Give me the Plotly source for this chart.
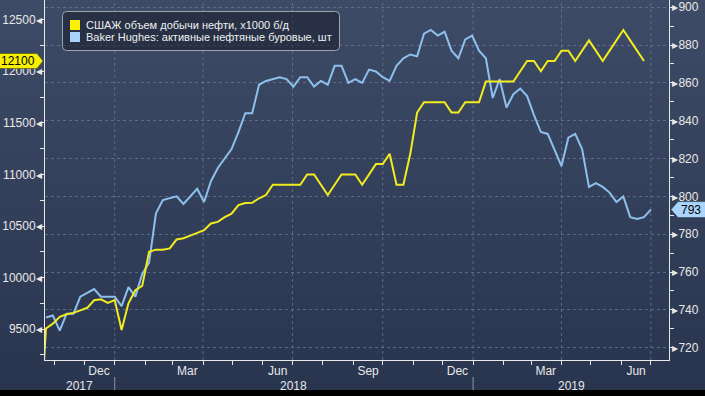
import base64
import struct
import zlib

import pandas as pd
import plotly.graph_objects as go

# ---------------- data ----------------
# weekly observations (plotted on the Monday after the reporting Friday)
rig_dates = pd.date_range("2017-10-23", periods=89, freq="7D")
prod_dates = [pd.Timestamp("2017-10-16")] + list(rig_dates[:88])

us_production = [
    8400,
    9507, 9553, 9620, 9645, 9658, 9682, 9707, 9780, 9789, 9754,
    9782, 9492, 9750, 9878, 9919, 10250, 10271, 10271, 10283, 10369,
    10381, 10407, 10433, 10460, 10525, 10540, 10586, 10619, 10703, 10723,
    10725, 10769, 10800, 10900, 10900, 10900, 10900, 10900, 11000, 11000,
    10900, 10800, 10900, 11000, 11000, 11000, 10900, 11000, 11100, 11100,
    11200, 10900, 10900, 11200, 11600, 11700, 11700, 11700, 11700, 11600,
    11600, 11700, 11700, 11700, 11900, 11900, 11900, 11900, 11900, 12000,
    12100, 12100, 12000, 12100, 12100, 12200, 12200, 12100, 12200, 12300,
    12200, 12100, 12200, 12300, 12400, 12300, 12200, 12100,
]

oil_rigs = [
    736, 737, 729, 738, 738, 747, 749, 751, 747, 747,
    747, 742, 752, 747, 759, 765, 791, 798, 799, 800,
    796, 800, 804, 797, 808, 815, 820, 825, 834, 844,
    844, 859, 861, 862, 863, 862, 858, 863, 863, 858,
    861, 859, 869, 869, 860, 862, 860, 867, 866, 863,
    861, 869, 873, 875, 874, 886, 888, 885, 887, 877,
    873, 883, 885, 877, 873, 852, 862, 847, 854, 857,
    853, 843, 834, 833, 824, 816, 831, 833, 825, 805,
    807, 805, 802, 797, 800, 789, 788, 789, 793,
]

series_names = ["СШАЖ объем добычи нефти, x1000 б/д",
                "Baker Hughes: активные нефтяные буровые, шт"]

left_ticks = [9500, 10000, 10500, 11000, 11500, 12000, 12500]
right_ticks = [720, 740, 760, 780, 800, 820, 840, 860, 880, 900]
month_label_dates = ["2017-12-16", "2018-03-16", "2018-06-16", "2018-09-16",
                     "2018-12-16", "2019-03-16", "2019-06-16"]
month_labels = ["Dec", "Mar", "Jun", "Sep", "Dec", "Mar", "Jun"]
year_labels = ["2017", "2018", "2019"]
year_starts = ["2018-01-01", "2019-01-01"]
quarter_lines = ["2018-01-01", "2018-04-01", "2018-07-01", "2018-10-01",
                 "2019-01-01", "2019-04-01", "2019-07-01"]

# ---------------- style ----------------
W, H = 705, 396
ML, MR, MT, MB = 45, 36, 0, 36
PW, PH = W - ML - MR, H - MT - MB
x_range = [pd.Timestamp("2017-10-22"), pd.Timestamp("2019-07-19 12:00")]
YELLOW = "#f2ec1e"
BLUE = "#8ec0ee"
TXT = "#e8e8e8"
GRID = "rgba(125,140,170,0.55)"
FONT = "Liberation Sans, Arial, sans-serif"


def px2x(p):
    return (p - ML) / PW


def py2y(p):
    return (MT + PH - p) / PH


def gradient_png(top, bottom, h=96):
    rows = b""
    for i in range(h):
        t = i / (h - 1)
        c = [round(top[j] + (bottom[j] - top[j]) * t) for j in range(3)]
        rows += b"\x00" + bytes(c)

    def chunk(tag, data):
        return (struct.pack(">I", len(data)) + tag + data +
                struct.pack(">I", zlib.crc32(tag + data) & 0xffffffff))

    png = (b"\x89PNG\r\n\x1a\n" +
           chunk(b"IHDR", struct.pack(">IIBBBBB", 1, h, 8, 2, 0, 0, 0)) +
           chunk(b"IDAT", zlib.compress(rows)) + chunk(b"IEND", b""))
    return "data:image/png;base64," + base64.b64encode(png).decode()


fig = go.Figure()
fig.add_trace(go.Scatter(x=rig_dates, y=oil_rigs, mode="lines", yaxis="y",
                         line=dict(color=BLUE, width=2), name=series_names[1],
                         showlegend=False))
fig.add_trace(go.Scatter(x=prod_dates, y=us_production, mode="lines", yaxis="y2",
                         line=dict(color=YELLOW, width=2), name=series_names[0],
                         showlegend=False))

shapes = []
# vertical quarter grid
for d in quarter_lines:
    shapes.append(dict(type="line", xref="x", yref="paper", x0=d, x1=d, y0=0, y1=1,
                       line=dict(color=GRID, width=1, dash="3px,3px"), layer="below"))
# year separators under the axis
for d in year_starts:
    shapes.append(dict(type="line", xref="x", yref="paper", x0=d, x1=d,
                       y0=py2y(377), y1=py2y(391),
                       line=dict(color="#8d96aa", width=1)))
# black strip at the very bottom
shapes.append(dict(type="rect", xref="paper", yref="paper", x0=px2x(0), x1=px2x(W),
                   y0=py2y(390), y1=py2y(H), fillcolor="#000000", line=dict(width=0)))

# legend box
lx0, lx1, ly0, ly1, r = 62.5, 339.5, 11.5, 50.5, 4
path = (f"M {px2x(lx0 + r)},{py2y(ly0)} L {px2x(lx1 - r)},{py2y(ly0)} "
        f"Q {px2x(lx1)},{py2y(ly0)} {px2x(lx1)},{py2y(ly0 + r)} "
        f"L {px2x(lx1)},{py2y(ly1 - r)} Q {px2x(lx1)},{py2y(ly1)} {px2x(lx1 - r)},{py2y(ly1)} "
        f"L {px2x(lx0 + r)},{py2y(ly1)} Q {px2x(lx0)},{py2y(ly1)} {px2x(lx0)},{py2y(ly1 - r)} "
        f"L {px2x(lx0)},{py2y(ly0 + r)} Q {px2x(lx0)},{py2y(ly0)} {px2x(lx0 + r)},{py2y(ly0)} Z")
shapes.append(dict(type="path", xref="paper", yref="paper", path=path,
                   fillcolor="rgba(22,28,42,0.55)", line=dict(color="#9ea3ad", width=1)))
for (yy, col) in [(20, "#fbf200"), (32, "#a9d2fb")]:
    shapes.append(dict(type="rect", xref="paper", yref="paper",
                       x0=px2x(70), x1=px2x(80), y0=py2y(yy), y1=py2y(yy + 10),
                       fillcolor=col, line=dict(width=0)))

# last value tags
shapes.append(dict(type="path", xref="paper", yref="y2", xsizemode="pixel",
                   ysizemode="pixel", xanchor=0, yanchor=us_production[-1],
                   path="M -60,7.5 L -8,7.5 L -2,0 L -8,-7.5 L -60,-7.5 Z",
                   fillcolor="#f7f000", line=dict(color="#3a3a10", width=0.5)))
shapes.append(dict(type="path", xref="paper", yref="y", xsizemode="pixel",
                   ysizemode="pixel", xanchor=1, yanchor=oil_rigs[-1],
                   path="M 2,0 L 9,8 L 40,8 L 40,-8 L 9,-8 Z",
                   fillcolor="#aad4fb", line=dict(color="#203040", width=0.5)))

annotations = []
for i, (name, yy) in enumerate(zip(series_names, [25, 37])):
    annotations.append(dict(xref="paper", yref="paper", x=px2x(84), y=py2y(yy),
                            xanchor="left", yanchor="middle", text=name, showarrow=False,
                            font=dict(family=FONT, size=11, color="#f0f0f0")))
annotations.append(dict(xref="paper", yref="y2", x=0, y=us_production[-1], xshift=-8,
                        xanchor="right", yanchor="middle", text=str(us_production[-1]),
                        showarrow=False, font=dict(family=FONT, size=12, color="#000000")))
annotations.append(dict(xref="paper", yref="y", x=1, y=oil_rigs[-1], xshift=22,
                        xanchor="center", yanchor="middle", text=str(oil_rigs[-1]),
                        showarrow=False, font=dict(family=FONT, size=12, color="#000000")))
# year labels centred on the visible part of each year
bounds = [x_range[0]] + [pd.Timestamp(d) for d in year_starts] + [x_range[1]]
for lab, a, b in zip(year_labels, bounds[:-1], bounds[1:]):
    annotations.append(dict(xref="x", yref="paper", x=a + (b - a) / 2, y=py2y(386),
                            xanchor="center", yanchor="middle", text=lab, showarrow=False,
                            font=dict(family=FONT, size=12, color=TXT)))

fig.update_layout(
    width=W, height=H, autosize=False,
    margin=dict(l=ML, r=MR, t=MT, b=MB, pad=0, autoexpand=False),
    paper_bgcolor="#2d3853", plot_bgcolor="rgba(0,0,0,0)",
    font=dict(family=FONT, size=12, color=TXT),
    showlegend=False,
    images=[dict(source=gradient_png((62, 75, 102), (41, 53, 79)), xref="paper",
                 yref="paper", x=px2x(0), y=py2y(0), sizex=W / PW, sizey=H / PH,
                 xanchor="left", yanchor="top", sizing="stretch", layer="below")],
    shapes=shapes, annotations=annotations,
    xaxis=dict(type="date", range=x_range, showgrid=False, zeroline=False,
               automargin=False,
               showline=True, linecolor=TXT, linewidth=1,
               tickvals=month_label_dates, ticktext=month_labels, ticks="",
               tickfont=dict(size=12, color=TXT),
               minor=dict(ticks="outside", dtick="M1", tick0="2017-01-01",
                          ticklen=4, tickcolor=TXT, tickwidth=1, showgrid=False)),
    yaxis=dict(side="right", range=[713.5, 903.8], tickvals=right_ticks,
               ticktext=["▸" + str(v) for v in right_ticks], ticks="",
               automargin=False,
               showgrid=True, gridcolor=GRID, griddash="3px,3px", gridwidth=1,
               zeroline=False, showline=True, linecolor=TXT, linewidth=1,
               tickfont=dict(size=12, color=TXT),
               minor=dict(ticks="outside", dtick=10, tick0=720, ticklen=4,
                          tickcolor=TXT, showgrid=False)),
    yaxis2=dict(side="left", overlaying="y", range=[9201, 12691], tickvals=left_ticks,
                ticktext=[str(v) + "◂" for v in left_ticks], ticks="",
                automargin=False,
                showgrid=False, zeroline=False, showline=True, linecolor=TXT,
                linewidth=1, tickfont=dict(size=12, color=TXT),
                minor=dict(ticks="outside", dtick=250, tick0=9500, ticklen=4,
                           tickcolor=TXT, showgrid=False)),
)

fig.write_html("out.html",
               config={"displayModeBar": False, "staticPlot": True},
               post_script="document.body.style.margin='0';"
                           "document.body.style.overflow='hidden';")
